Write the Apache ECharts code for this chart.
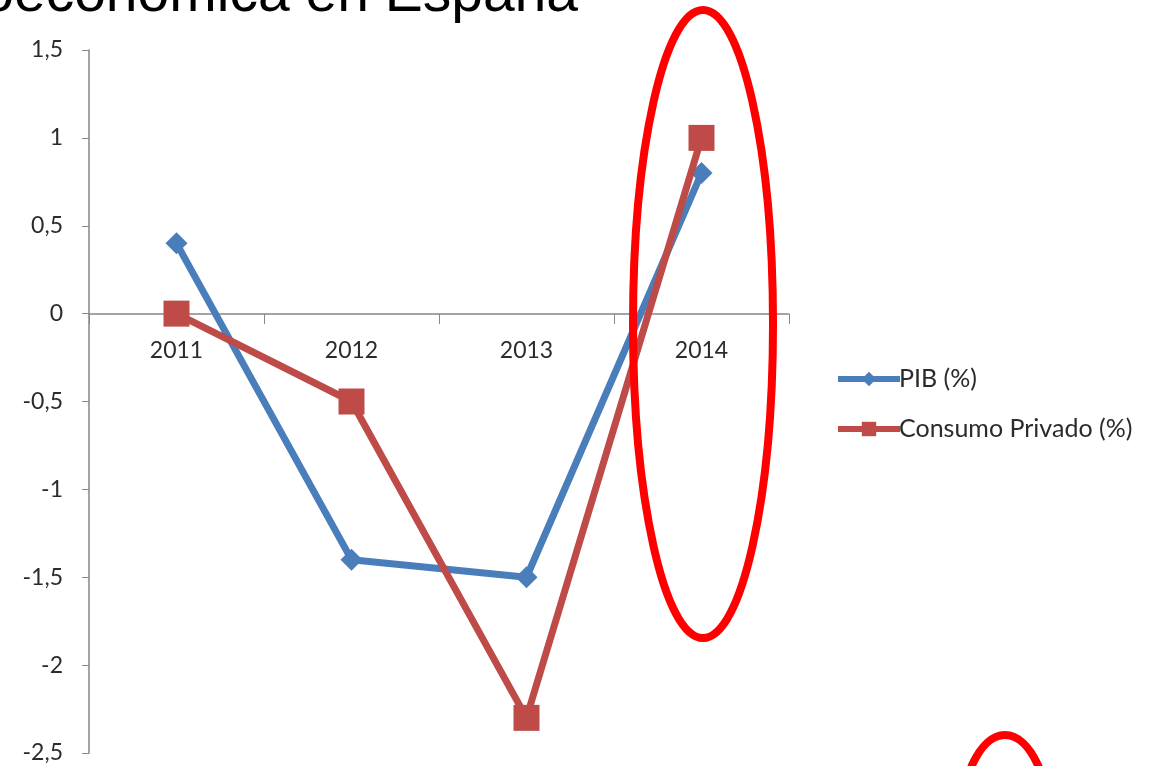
<!DOCTYPE html>
<html><head><meta charset="utf-8">
<script src="https://cdn.jsdelivr.net/npm/echarts@6/dist/echarts.min.js"></script>
<style>html,body{margin:0;padding:0;background:#fff}#c{width:1151px;height:766px}</style>
</head><body><div id="c"></div>
<script>
const years = ['2011','2012','2013','2014'];
const pib = [0.4, -1.4, -1.5, 0.8];
const consumo = [0, -0.5, -2.3, 1.0];
const yTicks = {min: -2.5, max: 1.5, interval: 0.5};

const gridTop = 50, gridH = 703;
const zeroOffset = -Math.round(gridH * (0 - yTicks.min) / (yTicks.max - yTicks.min));

const chart = echarts.init(document.getElementById('c'));
const fnt = 'Lato, "Open Sans", sans-serif';
chart.setOption({
  animation: false,
  backgroundColor: '#fff',
  grid: {left: 89, top: gridTop, width: 700, height: gridH, containLabel: false, outerBoundsMode: 'none'},
  xAxis: {
    type: 'category', data: years, boundaryGap: true,
    offset: zeroOffset,
    axisLine: {onZero: false, lineStyle: {color: '#868686', width: 1.5}},
    axisTick: {show: true, length: 10, inside: false, lineStyle: {color: '#868686'}},
    axisLabel: {color: '#2b2b2b', fontSize: 23, fontFamily: fnt, margin: 25}
  },
  yAxis: {
    type: 'value', min: yTicks.min, max: yTicks.max, interval: yTicks.interval,
    splitLine: {show: false},
    axisLine: {show: true, lineStyle: {color: '#868686', width: 1.5}},
    axisTick: {show: true, length: 7, lineStyle: {color: '#868686'}},
    axisLabel: {color: '#2b2b2b', fontSize: 23, fontFamily: fnt, margin: 26,
      formatter: v => String(v).replace('.', ',')}
  },
  legend: {
    orient: 'vertical', left: 830, top: 360, itemGap: 22,
    itemWidth: 62, itemHeight: 18,
    lineStyle: {width: 6},
    textStyle: {color: '#2b2b2b', fontSize: 25, lineHeight: 28, fontFamily: fnt, padding: [0,0,0,-6]},
    data: ['PIB (%)', 'Consumo Privado (%)']
  },
  series: [
    {name: 'PIB (%)', type: 'line', data: pib, symbol: 'diamond', symbolSize: 22,
     z: 3,
     lineStyle: {color: '#4a7ebb', width: 7}, itemStyle: {color: '#4a7ebb'}},
    {name: 'Consumo Privado (%)', type: 'line', data: consumo, symbol: 'rect', symbolSize: 26,
     z: 4,
     lineStyle: {color: '#be4b48', width: 7}, itemStyle: {color: '#be4b48'}}
  ],
  graphic: [
    {type: 'text', x: 578, y: -33, z: 10,
     style: {text: 'Situación macroeconómica en España', font: '57px "Liberation Sans", Arial, sans-serif', fill: '#000', align: 'right', verticalAlign: 'top'}},
    {type: 'ellipse', shape: {cx: 703, cy: 324, rx: 70, ry: 314}, z: 20,
     style: {fill: 'none', stroke: '#ff0000', lineWidth: 8}},
    {type: 'ellipse', shape: {cx: 1005, cy: 835, rx: 46, ry: 100}, z: 20,
     style: {fill: 'none', stroke: '#ff0000', lineWidth: 8}}
  ]
});
</script></body></html>
